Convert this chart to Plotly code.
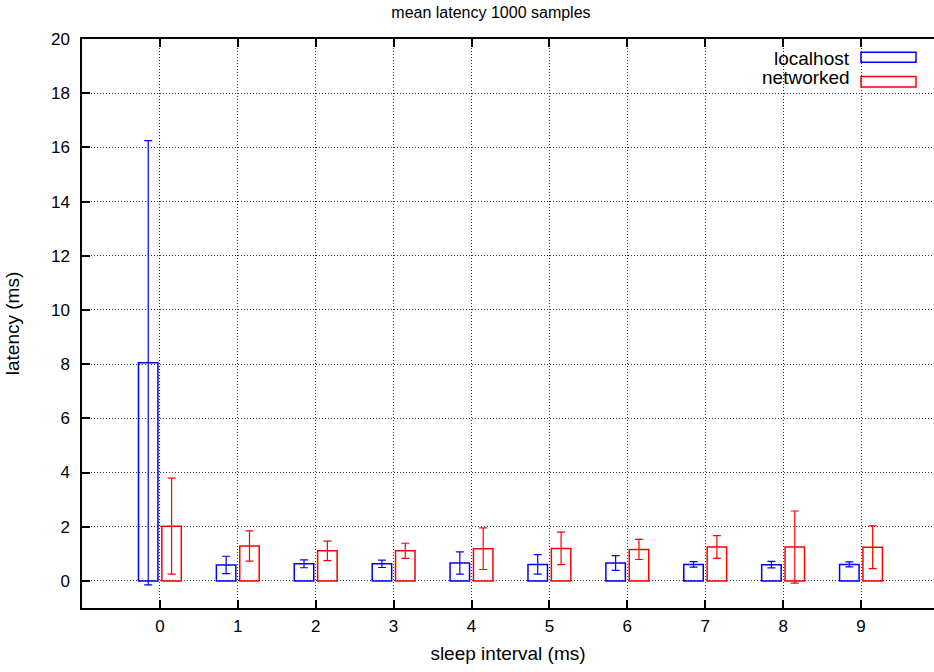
import plotly.graph_objects as go

# Mean latency per sleep interval, with standard deviation as error bars
sleep_ms = [0, 1, 2, 3, 4, 5, 6, 7, 8, 9]
localhost_mean = [8.05, 0.59, 0.63, 0.63, 0.66, 0.61, 0.66, 0.61, 0.60, 0.61]
localhost_sd = [8.20, 0.32, 0.145, 0.135, 0.41, 0.36, 0.27, 0.10, 0.12, 0.09]
networked_mean = [2.02, 1.29, 1.11, 1.11, 1.19, 1.20, 1.16, 1.25, 1.25, 1.24]
networked_sd = [1.77, 0.56, 0.36, 0.28, 0.77, 0.60, 0.37, 0.42, 1.33, 0.79]

y_ticks = list(range(0, 21, 2))

FONT = "Liberation Sans, Arial, Helvetica, sans-serif"
BLUE = "rgb(0,0,255)"
RED = "rgb(255,0,0)"
BAR_W = 0.25
TICK_SIZE = 17
LABEL_SIZE = 19


def bar_trace(name, means, sds, color, offset):
    return go.Bar(
        name=name,
        x=sleep_ms,
        y=means,
        width=BAR_W,
        offset=offset,
        marker=dict(color="rgba(0,0,0,0)", line=dict(color=color, width=1.5)),
        error_y=dict(type="data", array=sds, visible=True,
                     color=color, thickness=1.2, width=4),
        showlegend=False,
    )


fig = go.Figure()
fig.add_trace(bar_trace("localhost", localhost_mean, localhost_sd, BLUE, -0.275))
fig.add_trace(bar_trace("networked", networked_mean, networked_sd, RED, 0.025))

grid = dict(showgrid=True, gridcolor="#333333", gridwidth=1, griddash="1px,2px")

fig.update_layout(
    width=934,
    height=672,
    barmode="overlay",
    paper_bgcolor="white",
    plot_bgcolor="white",
    margin=dict(l=82, r=0, t=39, b=64, autoexpand=False),
    font=dict(family=FONT, size=TICK_SIZE, color="black"),
    title=dict(text="mean latency 1000 samples", x=0.48, xref="paper",
               xanchor="center", y=1 - 12 / 672, yref="container",
               yanchor="middle", font=dict(family=FONT, size=16)),
    xaxis=dict(
        range=[-1, 9.937],
        tickmode="array",
        tickvals=sleep_ms,
        ticktext=[str(v) for v in sleep_ms],
        ticks="inside",
        ticklen=8,
        tickwidth=1.5,
        tickcolor="black",
        showline=True,
        linecolor="black",
        linewidth=1.5,
        mirror="ticks",
        zeroline=False,
        ticklabelstandoff=2,
        tickfont=dict(size=TICK_SIZE),
        title=dict(text="sleep interval (ms)", standoff=12,
                   font=dict(family=FONT, size=LABEL_SIZE)),
        automargin=False,
        **grid,
    ),
    yaxis=dict(
        range=[-1, 20],
        tickmode="array",
        tickvals=y_ticks,
        ticktext=[str(v) for v in y_ticks],
        ticks="inside",
        ticklen=8,
        tickwidth=1.5,
        tickcolor="black",
        showline=True,
        linecolor="black",
        linewidth=1.5,
        zeroline=False,
        ticklabelstandoff=7,
        tickfont=dict(size=TICK_SIZE),
        title=dict(text="latency (ms)", standoff=26,
                   font=dict(family=FONT, size=LABEL_SIZE)),
        automargin=False,
        **grid,
    ),
    yaxis2=dict(
        range=[-1, 20],
        overlaying="y",
        side="right",
        anchor="x",
        tickmode="array",
        tickvals=y_ticks,
        ticks="inside",
        ticklen=5,
        tickwidth=1.5,
        tickcolor="black",
        showticklabels=False,
        showgrid=False,
        showline=False,
        zeroline=False,
    ),
)

# Key in the top-right corner: right-aligned label followed by an outlined sample box
legend_rows = [("localhost", BLUE, 0.9666, 0.9591, 0.9766),
               ("networked", RED, 0.9326, 0.9156, 0.9339)]
for label, color, ty, y0, y1 in legend_rows:
    fig.add_annotation(text=label, xref="paper", yref="paper", x=0.9035, y=ty,
                       xanchor="right", yanchor="middle", showarrow=False,
                       font=dict(family=FONT, size=LABEL_SIZE, color="black"))
    fig.add_shape(type="rect", xref="paper", yref="paper",
                  x0=0.9143, x1=0.9789, y0=y0, y1=y1,
                  line=dict(color=color, width=1.5), fillcolor="rgba(0,0,0,0)")

fig.write_html("out.html")
